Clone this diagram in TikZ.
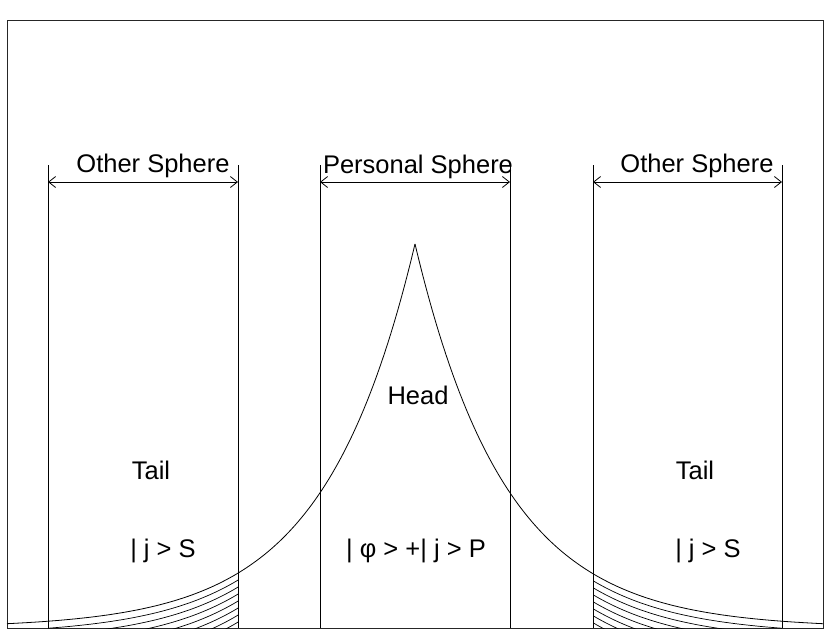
\documentclass[tikz,border=0pt]{standalone}
\usepackage{fontspec}
\setmainfont{Liberation Sans}
\usetikzlibrary{arrows.meta}
\begin{document}
\begin{tikzpicture}[x=1pt,y=-1pt,
  lbl/.style={font=\fontsize{25.5}{28}\selectfont, anchor=base, inner sep=0pt},
  wall/.style={line width=0.9pt},
  dim/.style={line width=0.8pt, {Straight Barb[length=7pt,width=11pt]}-{Straight Barb[length=7pt,width=11pt]}},
  curve/.style={line width=0.8pt},
  hatch/.style={line width=0.7pt}]
\useasboundingbox (0,0) rectangle (835,643);
\fill[white] (0,0) rectangle (835,643);
% frame
\draw[line width=1pt, black!85] (7,20) rectangle (823,628);
% vertical walls
\coordinate (atop) at (48,165);  \coordinate (abot) at (48,628);  \coordinate (aarr) at (48,182);
\coordinate (btop) at (238,165); \coordinate (bbot) at (238,628); \coordinate (barr) at (238,182);
\coordinate (ctop) at (320,165); \coordinate (cbot) at (320,628); \coordinate (carr) at (320,182);
\coordinate (dtop) at (510,165); \coordinate (dbot) at (510,628); \coordinate (darr) at (510,182);
\coordinate (etop) at (593,165); \coordinate (ebot) at (593,628); \coordinate (earr) at (593,182);
\coordinate (ftop) at (782,165); \coordinate (fbot) at (782,628); \coordinate (farr) at (782,182);
\draw[wall] (atop) -- (abot);
\draw[wall] (btop) -- (bbot);
\draw[wall] (ctop) -- (cbot);
\draw[wall] (dtop) -- (dbot);
\draw[wall] (etop) -- (ebot);
\draw[wall] (ftop) -- (fbot);
% dimension arrows
\draw[dim] (aarr) -- (barr);
\draw[dim] (carr) -- (darr);
\draw[dim] (earr) -- (farr);
% labels
\node[lbl] (os1) at (153,172) {Other Sphere};
\node[lbl] (ps) at (418,173) {Personal Sphere};
\node[lbl] (os2) at (697,172) {Other Sphere};
\node[lbl] (head) at (418,404) {Head};
\node[lbl] (tail1) at (151,479) {Tail};
\node[lbl] (tail2) at (695,479) {Tail};
\node[lbl] (js1) at (163,557) {| j > S};
\node[lbl] (psi) at (416,557) {| φ > +| j > P};
\node[lbl] (js2) at (708,557) {| j > S};
% main curve
\draw[curve] plot[domain=7:415, samples=120] (\x,{628-384*exp(-(415-\x)/91)});
\draw[curve] plot[domain=415:823, samples=120] (\x,{628-384*exp(-(\x-415)/91)});
% hatching in tails
\begin{scope}
  \clip (48,300) rectangle (238,628);
  \foreach \k in {1,...,7}{
    \draw[hatch] plot[domain=40:240, samples=60] (\x,{628-384*exp(-(415-\x)/91)+7*\k});
  }
\end{scope}
\begin{scope}
  \clip (593,300) rectangle (782,628);
  \foreach \k in {1,...,7}{
    \draw[hatch] plot[domain=590:790, samples=60] (\x,{628-384*exp(-(\x-415)/91)+7*\k});
  }
\end{scope}
\end{tikzpicture}
\end{document}
